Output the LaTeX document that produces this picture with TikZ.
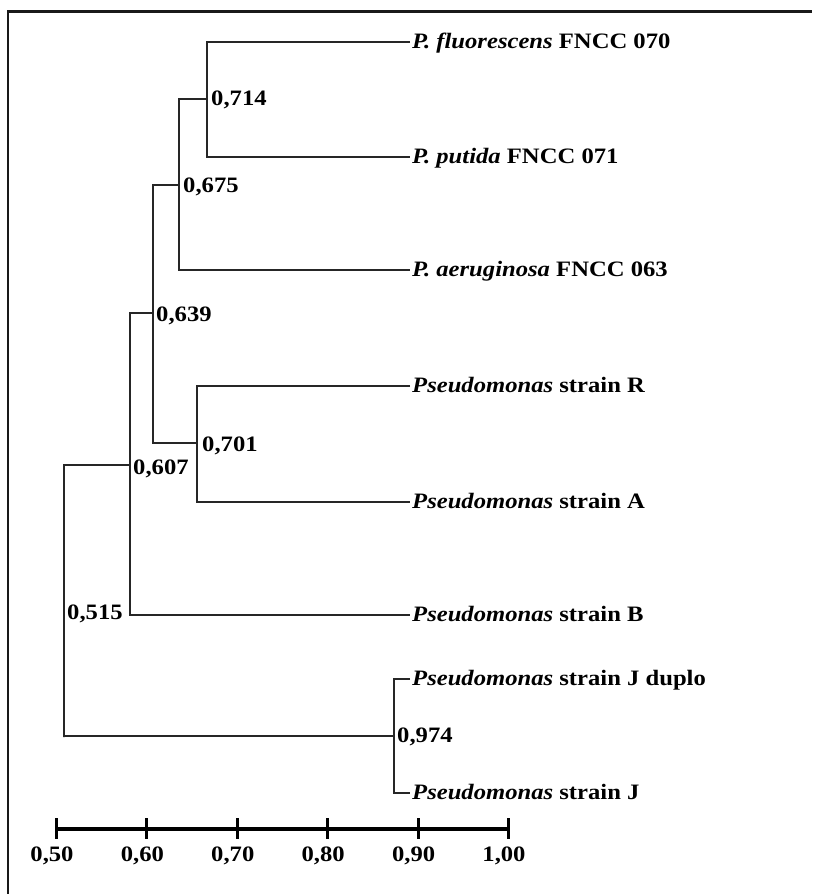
\documentclass[tikz,border=0pt]{standalone}
\usepackage{fontspec}
\setmainfont{Liberation Serif}[FakeStretch=1.12]
\begin{document}
\begin{tikzpicture}[x=1pt,y=-1pt,
  branch/.style={line width=1.3pt,draw=black!85},
  leaflab/.style={anchor=west,inner sep=2pt,font=\fontsize{22}{26}\selectfont\bfseries,text height=15pt,text depth=3pt},
  numlab/.style={anchor=west,inner sep=0pt,font=\fontsize{22}{26}\selectfont\bfseries},
  axisline/.style={line width=4pt,draw=black},
  tickline/.style={line width=3pt,draw=black},
  ticklab/.style={anchor=center,inner sep=0pt,font=\fontsize{22}{26}\selectfont\bfseries},
  frameline/.style={line width=2.2pt,draw=black!90}]
\useasboundingbox (0,0) rectangle (812,894);
\fill[white] (0,0) rectangle (812,894);
% frame
\draw[frameline] (8,894) -- (8,11.5) -- (812,11.5);
% internal nodes
\coordinate (n714) at (207,99);
\coordinate (n675) at (179,185);
\coordinate (n639) at (153,313);
\coordinate (n701) at (197,443);
\coordinate (n607) at (130,465);
\coordinate (n515) at (64,737);
\coordinate (n974) at (394,736);
% leaf labels
\node[leaflab] (lf) at (410,42) {\textit{P. fluorescens} FNCC 070};
\node[leaflab] (lp) at (410,157) {\textit{P. putida} FNCC 071};
\node[leaflab] (la) at (410,270) {\textit{P. aeruginosa} FNCC 063};
\node[leaflab] (lR) at (410,386) {\textit{Pseudomonas} strain R};
\node[leaflab] (lA) at (410,502) {\textit{Pseudomonas} strain A};
\node[leaflab] (lB) at (410,615) {\textit{Pseudomonas} strain B};
\node[leaflab] (lJd) at (410,679) {\textit{Pseudomonas} strain J duplo};
\node[leaflab] (lJ) at (410,793) {\textit{Pseudomonas} strain J};
% branches
\draw[branch] (lf.west) -| (n714) |- (lp.west);
\draw[branch] (n714) -| (n675) |- (la.west);
\draw[branch] (n675) -| (n639) |- (n701);
\draw[branch] (lR.west) -| (n701) |- (lA.west);
\draw[branch] (n639) -| (n607) |- (lB.west);
\draw[branch] (n607) -| (n515) |- (n974);
\draw[branch] (lJd.west) -| (n974) |- (lJ.west);
% node values
\node[numlab] (v714) at (211,100) {0,714};
\node[numlab] (v675) at (183,187) {0,675};
\node[numlab] (v639) at (156,316) {0,639};
\node[numlab] (v701) at (202,446) {0,701};
\node[numlab] (v607) at (133,469) {0,607};
\node[numlab] (v515) at (67,614) {0,515};
\node[numlab] (v974) at (397,737) {0,974};
% scale axis
\foreach \v/\lab [count=\i from 0] in {50/{0,50},60/{0,60},70/{0,70},80/{0,80},90/{0,90},100/{1,00}} {
  \coordinate (t\v) at (56+90.5*\i,829);
  \coordinate (tt\v) at (56+90.5*\i,818);
  \coordinate (tb\v) at (56+90.5*\i,839);
  \draw[tickline] (tt\v) -- (tb\v);
  \node[ticklab] (s\v) at (52+90.4*\i,856) {\lab};
}
\draw[axisline] (t50) -- (t100);
\end{tikzpicture}
\end{document}
